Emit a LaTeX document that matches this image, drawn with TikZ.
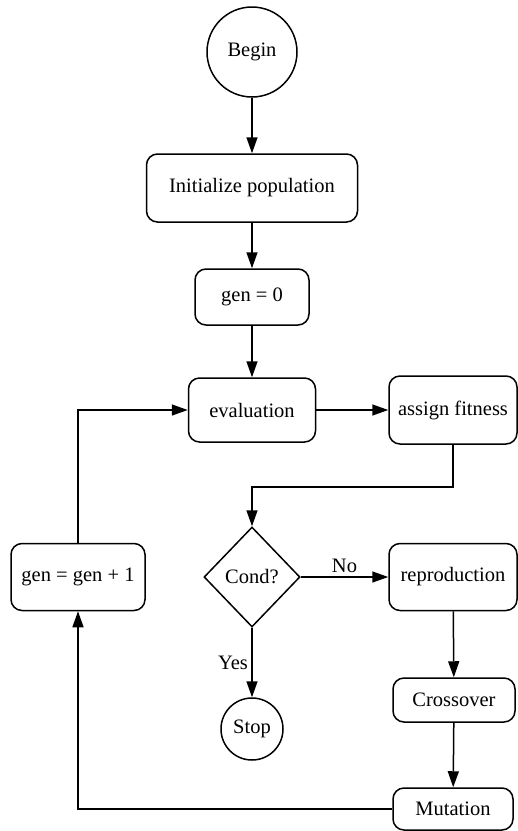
\documentclass[tikz,border=0pt]{standalone}
\usepackage{fontspec}
\setmainfont{Liberation Serif}
\usetikzlibrary{shapes.geometric, arrows.meta}

\begin{document}
\begin{tikzpicture}[x=1pt, y=-1pt,
  every node/.style={font=\rmfamily\fontsize{20.5}{24}\selectfont},
  stepbox/.style={draw, line width=1.5pt, rounded corners=11pt, inner sep=2pt},
  terminal/.style={draw, circle, line width=1.5pt, inner sep=0pt},
  decision/.style={draw, diamond, line width=1.5pt, inner sep=0pt, minimum width=96pt, minimum height=100pt},
  arr/.style={line width=1.5pt, -{Triangle[length=16pt, width=11pt]}}]
  \useasboundingbox (0,0) rectangle (518,831);

  % Main column
  \node[terminal, minimum size=90pt] (begin) at (252,52) {Begin};
  \node[stepbox, minimum width=211pt, minimum height=68pt] (init) at (252,188) {Initialize population};
  \node[stepbox, minimum width=114pt, minimum height=56pt] (gen0) at (252,297) {gen = 0};
  \node[stepbox, minimum width=127pt, minimum height=64pt] (eval) at (252,410) {evaluation};
  \node[decision] (cond) at (252,577) {Cond?};
  \node[terminal, minimum size=62pt] (stop) at (252,729) {Stop};

  % Right column
  \node[stepbox, minimum width=128pt, minimum height=68pt] (fit) at (453,410) {assign fitness};
  \node[stepbox, minimum width=128pt, minimum height=67pt] (repro) at (453,577) {reproduction};
  \node[stepbox, minimum width=122pt, minimum height=44pt] (cross) at (454,700) {Crossover};
  \node[stepbox, minimum width=120pt, minimum height=42pt] (mut) at (453,809) {Mutation};

  % Left column
  \node[stepbox, minimum width=134pt, minimum height=67pt] (inc) at (78,577) {gen = gen + 1};

  % Connectors
  \draw[arr] (begin) -- (init);
  \draw[arr] (init) -- (gen0);
  \draw[arr] (gen0) -- (eval);
  \draw[arr] (eval) -- (fit);
  \draw[arr] (fit.south) -- ++(0,42) -| (cond.north);
  \draw[arr] (cond) -- node[above] {No} (repro);
  \draw[arr] (cond) -- node[left] {Yes} (stop);
  \draw[arr] (repro) -- (cross);
  \draw[arr] (cross) -- (mut);
  \draw[arr] (mut.west) -| (inc.south);
  \draw[arr] (inc.north) |- (eval.west);

\end{tikzpicture}
\end{document}
